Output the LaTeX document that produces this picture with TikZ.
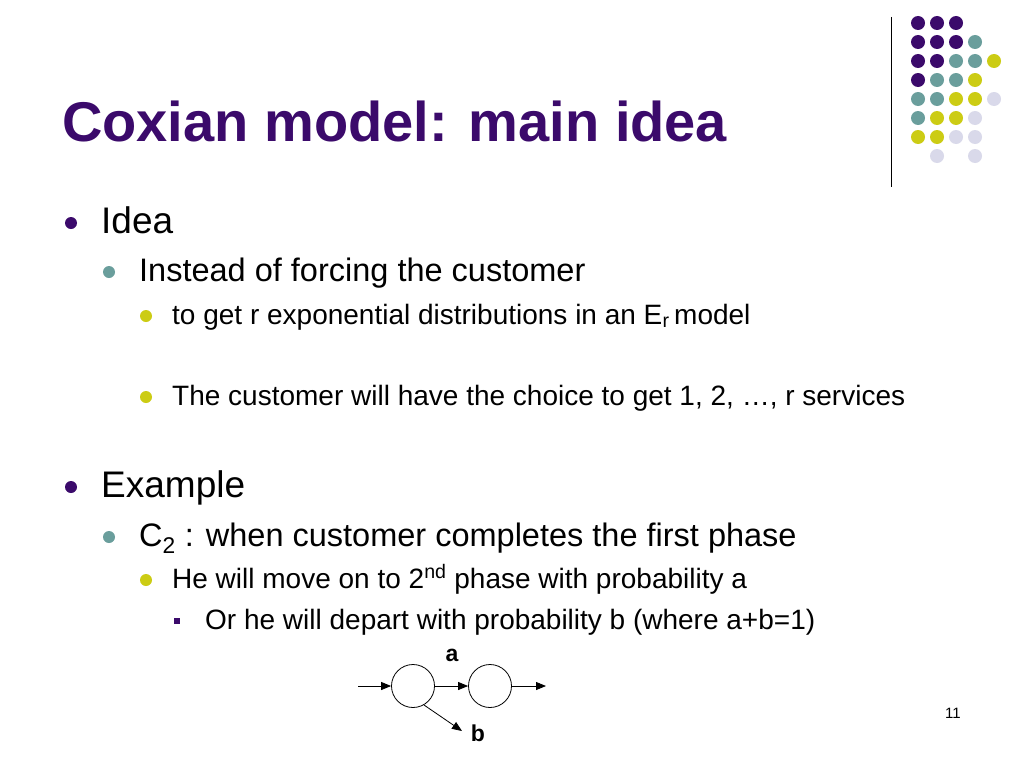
\documentclass[tikz,border=0pt]{standalone}
\usepackage{fontspec}
\setmainfont{Liberation Sans}
\usetikzlibrary{arrows.meta}
\definecolor{cP}{HTML}{3B0A6B}
\definecolor{cT}{HTML}{6A9E9C}
\definecolor{cY}{HTML}{CCCC14}
\definecolor{cL}{HTML}{D9D9EA}
\definecolor{ttl}{HTML}{3B0A6B}
\begin{document}
\begin{tikzpicture}[x=1pt,y=-1pt,
  txt/.style={anchor=base west,inner sep=0pt},
  st/.style={circle,draw,line width=0.8pt,minimum size=43pt,inner sep=0pt},
  arr/.style={-{Triangle[length=10pt,width=8pt]},line width=0.8pt},
  bl/.style={circle,fill=#1,minimum size=12pt,inner sep=0pt},
  sq/.style={fill=#1,minimum size=6pt,inner sep=0pt}]
\useasboundingbox (0,0) rectangle (1024,768);
\fill[white] (0,0) rectangle (1024,768);
% dots
\foreach \c/\r/\k in {0/0/cP,1/0/cP,2/0/cP,
  0/1/cP,1/1/cP,2/1/cP,3/1/cT,
  0/2/cP,1/2/cP,2/2/cT,3/2/cT,4/2/cY,
  0/3/cP,1/3/cT,2/3/cT,3/3/cY,
  0/4/cT,1/4/cT,2/4/cY,3/4/cY,4/4/cL,
  0/5/cT,1/5/cY,2/5/cY,3/5/cL,
  0/6/cY,1/6/cY,2/6/cL,3/6/cL,
  1/7/cL,3/7/cL}
  \fill[\k] (918+19*\c,23+19*\r) circle (7);
\draw[line width=1pt] (891,17) -- (891,187);
% title
\node[txt,text=ttl,font=\fontsize{56}{64}\selectfont\bfseries] (title) at (62,141) {Coxian model: main idea};
% bullets
\node[bl=cP] (b1) at (71,223) {};
\node[txt,font=\fontsize{37}{44}\selectfont] (t1) at (101,233) {Idea};
\node[bl=cT] (b2) at (109,272) {};
\node[txt,font=\fontsize{32.5}{38}\selectfont] (t2) at (139,281) {Instead of forcing the customer};
\node[bl=cY] (b3) at (146,316) {};
\node[txt,font=\fontsize{28}{33}\selectfont] (t3) at (172,324) {to get r exponential distributions in an E\textsubscript{r}\,model};
\node[bl=cY] (b4) at (146,397) {};
\node[txt,font=\fontsize{28}{33}\selectfont] (t4) at (172,405) {The customer will have the choice to get 1, 2, \dots, r services};
\node[bl=cP] (b5) at (71,487) {};
\node[txt,font=\fontsize{37}{44}\selectfont] (t5) at (101,497) {Example};
\node[bl=cT] (b6) at (109,537) {};
\node[txt,font=\fontsize{32.5}{38}\selectfont] (t6) at (139,546) {C\textsubscript{2} : when customer completes the first phase};
\node[bl=cY] (b7) at (146,580) {};
\node[txt,font=\fontsize{28}{33}\selectfont] (t7) at (172,588) {He will move on to 2\textsuperscript{nd} phase with probability a};
\node[sq=cP] (b8) at (177,621) {};
\node[txt,font=\fontsize{28}{33}\selectfont] (t8) at (205,629) {Or he will depart with probability b (where a+b=1)};
% diagram
\node[st] (s1) at (413,686) {};
\node[st] (s2) at (490,686) {};
\coordinate (in) at (358,686);
\coordinate (out) at (546,686);
\coordinate (dep) at (462,731);
\draw[arr] (in) -- (s1);
\draw[arr] (s1) -- (s2);
\draw[arr] (s2) -- (out);
\draw[arr] (s1.-60) -- (dep);
\node[font=\fontsize{23}{27}\selectfont\bfseries] (la) at (452,655) {a};
\node[font=\fontsize{23}{27}\selectfont\bfseries] (lb) at (478,733) {b};
\node[font=\fontsize{15}{18}\selectfont] (pg) at (953,713) {11};
\end{tikzpicture}
\end{document}
